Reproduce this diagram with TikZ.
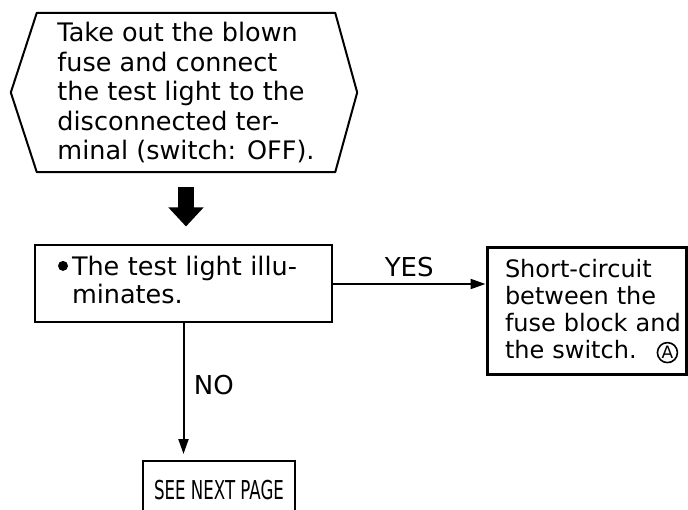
\documentclass[tikz,border=0pt]{standalone}
\usepackage{fontspec}
\setmainfont{DejaVu Sans}
\usepackage{graphicx}
\usetikzlibrary{positioning,arrows.meta,calc}
\tikzset{
  check box/.style={
    draw,
    line width=2pt,
    inner sep=0pt,
    align=left,
    font=\fontsize{25.5}{27}\selectfont
  },
  result box/.style={
    check box,
    line width=3pt,
    font=\fontsize{24}{27}\selectfont
  },
  arrow/.style={
    -{Triangle[length=15pt,width=10pt]},
    line width=2pt
  },
  big arrow/.style={
    -{Triangle[length=19pt,width=34pt]},
    line width=16pt
  },
  answer/.style={
    font=\fontsize{26}{26}\selectfont
  }
}
\newcommand{\circA}{\tikz[baseline=(ca.base)]\node[circle, draw, minimum width=20pt, minimum height=20pt,
  text width=, line width=1.6pt, inner sep=0pt] (ca) {\fontsize{17}{17}\selectfont A};}
\newcommand{\bulletdot}{\tikz[baseline=0pt]\fill (5pt,10pt) circle[radius=5pt];}

\begin{document}
\begin{tikzpicture}[x=1pt,y=-1pt]
  \useasboundingbox (0,0) rectangle (688,510);
  \clip (0,0) rectangle (688,510);

  % Start step
  \node[minimum width=298pt, minimum height=159pt, align=left, inner sep=0pt,
        font=\fontsize{25.5}{29.5}\selectfont] (hexa) at (186,92.5)
    {Take out the blown\\fuse and connect\\the test light to the\\disconnected ter-\\minal (switch: OFF).};
  \draw[line width=2pt, line join=round] (hexa.north west) -- (hexa.north east) -- ([xshift=22pt]hexa.east)
    -- (hexa.south east) -- (hexa.south west) -- ([xshift=-26pt]hexa.west) -- cycle;

  % Check
  \node[check box, minimum width=297pt, minimum height=77pt, text width=251pt] (light) at (183.5,284)
    {\begin{tabular}{@{}l@{\hspace{4pt}}l@{}}\bulletdot & The test light illu-\\ & minates.\end{tabular}};

  % Result
  \node[result box, minimum width=199pt, minimum height=127pt, text width=163pt] (short) at (586.5,311.5)
    {Short-circuit\\between the\\\mbox{fuse block and}\\\mbox{the switch.\hspace{20pt}\circA}};

  % Next page
  \node[draw, line width=2pt, anchor=north, minimum width=152pt, minimum height=58pt, inner sep=0pt,
        font=\fontsize{26}{26}\selectfont] (next) at (219,460) {\scalebox{0.64}[1]{SEE NEXT PAGE}};

  % Connections
  \draw[big arrow] ([yshift=-15pt]hexa.south) -- ($(hexa.south |- light.north)+(0,-18)$);
  \draw[arrow] (light.east) -- (light.east -| short.west) node[answer, midway, above=3pt] {YES};
  \draw[arrow, shorten >=6pt] (light.south) -- (light.south |- next.north) node[answer, pos=0.45, right=6pt] {NO};
\end{tikzpicture}
\end{document}
